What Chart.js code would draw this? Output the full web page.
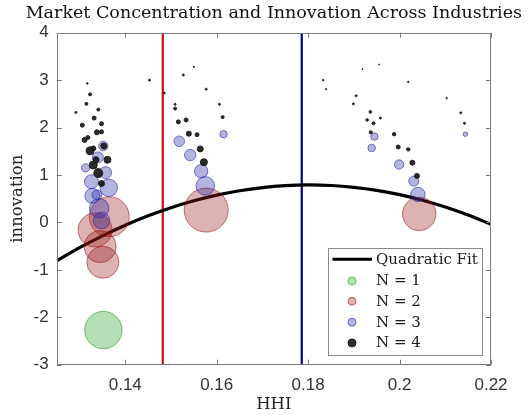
<!DOCTYPE html>
<html><head><meta charset="utf-8">
<script src="https://cdn.jsdelivr.net/npm/chart.js@4/dist/chart.umd.min.js"></script>
<style>html,body{margin:0;padding:0;background:#fff;overflow:hidden}#wrap{width:528px;height:415px;position:relative}</style>
</head><body><div id="wrap"><canvas id="c" width="528" height="415"></canvas></div>
<script>
// ---- data ----
const titleText = 'Market Concentration and Innovation Across Industries';
const xTicks = [0.14, 0.16, 0.18, 0.2, 0.22];
const xTickLabels = ['0.14', '0.16', '0.18', '0.2', '0.22'];
const yTicks = [-3, -2, -1, 0, 1, 2, 3, 4];

const n1X = [0.1352];
const n1Y = [-2.27];
const n1S = [18.7];

const n2X = [0.1365, 0.1334, 0.1345, 0.1351, 0.1577, 0.2043];
const n2Y = [0.12, -0.16, -0.51, -0.84, 0.26, 0.18];
const n2S = [20, 17, 16, 16, 22, 16.7];

const n3X = [0.1352, 0.1340, 0.1313, 0.1357, 0.1326, 0.1364, 0.1328, 0.1338, 0.1343, 0.1348,
             0.1518, 0.1615, 0.1542, 0.1566, 0.1575,
             0.1945, 0.1939, 0.1999, 0.2031, 0.2040, 0.2144];
const n3Y = [1.61, 1.37, 1.15, 1.05, 0.86, 0.73, 0.56, 0.58, 0.30, 0.04,
             1.71, 1.86, 1.42, 1.08, 0.77,
             1.81, 1.57, 1.22, 0.87, 0.59, 1.86];
const n3S = [4.7, 5.5, 4.2, 6, 7, 8.7, 7.5, 5, 9.7, 8.3,
             5.3, 3.7, 5.7, 6.7, 9.3,
             3.7, 3.8, 4.7, 5, 7.2, 2.3];

const n4X = [0.1317, 0.1453, 0.1323, 0.1315, 0.1341, 0.1292, 0.1332, 0.1348, 0.1306, 0.1338, 0.1348,
             0.1311, 0.1318, 0.1330, 0.1323, 0.1353, 0.1361, 0.1336, 0.1330, 0.1341, 0.1348,
             0.1550, 0.1527, 0.1485, 0.1577, 0.1509, 0.1509, 0.1606, 0.1613, 0.1516, 0.1533,
             0.1539, 0.1557, 0.1564, 0.1572,
             0.1833, 0.1839, 0.1919, 0.1955, 0.2019, 0.1905, 0.1899, 0.2103, 0.1936, 0.1929,
             0.1943, 0.1958, 0.1937, 0.1988, 0.1997, 0.2019, 0.2028, 0.2038, 0.2134, 0.2142];
const n4Y = [2.93, 3.00, 2.70, 2.50, 2.38, 2.32, 2.20, 2.08, 2.05, 1.90, 1.91,
             1.74, 1.79, 1.56, 1.51, 1.61, 1.32, 1.32, 1.21, 1.04, 0.82,
             3.28, 3.11, 2.73, 2.81, 2.49, 2.40, 2.49, 2.22, 2.12, 2.16,
             1.87, 1.85, 1.55, 1.27,
             3.00, 2.81, 3.23, 3.33, 2.96, 2.67, 2.50, 2.62, 2.33, 2.16,
             2.09, 2.20, 1.90, 1.86, 1.59, 1.54, 1.26, 0.98, 2.31, 2.09];
const n4S = [0.8, 1, 1.5, 1.5, 1.5, 1, 2, 2, 2, 2.5, 2,
             2.5, 2, 2.5, 4, 3, 3.5, 3, 4, 4.5, 3,
             0.6, 1, 1, 1, 1, 1.5, 1, 1.5, 2, 2,
             2.5, 2, 3, 3.5,
             0.8, 0.6, 0.5, 0.5, 0.7, 1, 1, 0.7, 1.3, 1.3,
             1.5, 1, 1.5, 1.7, 2, 1.7, 2.5, 2.5, 1, 1];

const fitX = [0.125, 0.130, 0.135, 0.140, 0.145, 0.150, 0.155, 0.160, 0.165, 0.170,
              0.175, 0.180, 0.185, 0.190, 0.195, 0.200, 0.205, 0.210, 0.215, 0.220];
const fitY = [-0.81, -0.533, -0.283, -0.059, 0.139, 0.311, 0.456, 0.575, 0.668, 0.735,
              0.776, 0.79, 0.778, 0.740, 0.676, 0.585, 0.468, 0.325, 0.156, -0.04];

const hhiRed = 0.1482;
const hhiBlue = 0.1786;
const yRange = [-3, 4];

// ---- build ----
const toBubbles = (xs, ys, ss) => xs.map((x, i) => ({x: x, y: ys[i], r: ss[i]}));
const toPts = (xs, ys) => xs.map((x, i) => ({x: x, y: ys[i]}));

const serif = '"DejaVu Serif", "Liberation Serif", serif';
const sans = '"Liberation Sans", Arial, sans-serif';

const frameAndLegend = {
  id: 'frameAndLegend',
  afterDatasetsDraw(chart) {
    const {ctx, chartArea: a, scales} = chart;
    ctx.save();
    // title centred over the plot area
    ctx.font = '17.5px ' + serif;
    ctx.fillStyle = '#111';
    ctx.textAlign = 'center';
    ctx.textBaseline = 'middle';
    ctx.fillText(titleText, (a.left + a.right) / 2, a.top - 19);

    // axes box
    ctx.strokeStyle = '#7a7a7a';
    ctx.lineWidth = 1;
    ctx.strokeRect(Math.round(a.left) + 0.5, Math.round(a.top) + 0.5,
                   Math.round(a.right - a.left) - 1, Math.round(a.bottom - a.top) - 1);
    // inward ticks on all four sides
    const tl = 5;
    ctx.beginPath();
    xTicks.forEach(v => {
      const px = Math.round(scales.x.getPixelForValue(v)) + 0.5;
      ctx.moveTo(px, a.bottom); ctx.lineTo(px, a.bottom - tl);
      ctx.moveTo(px, a.top); ctx.lineTo(px, a.top + tl);
    });
    yTicks.forEach(v => {
      const py = Math.round(scales.y.getPixelForValue(v)) + 0.5;
      ctx.moveTo(a.left, py); ctx.lineTo(a.left + tl, py);
      ctx.moveTo(a.right, py); ctx.lineTo(a.right - tl, py);
    });
    ctx.stroke();

    // legend box
    const bx = Math.round(a.right - 163) + 0.5, by = Math.round(a.bottom - 116.5) + 0.5;
    const bw = 154, bh = 107;
    ctx.fillStyle = '#ffffff';
    ctx.fillRect(bx, by, bw, bh);
    ctx.strokeStyle = '#8a8a8a';
    ctx.strokeRect(bx, by, bw, bh);
    const rows = [10.7, 32.4, 52.7, 73.7, 94.4];
    const items = ['fit', 'n1', 'n2', 'n3', 'n4'];
    ctx.font = '15px ' + serif;
    ctx.textBaseline = 'middle';
    ctx.textAlign = 'left';
    items.forEach((id, i) => {
      const ds = chart.data.datasets.find(d => d.id === id);
      const y = by + rows[i];
      if (id === 'fit') {
        ctx.strokeStyle = ds.borderColor;
        ctx.lineWidth = 3;
        ctx.beginPath(); ctx.moveTo(bx + 4, y); ctx.lineTo(bx + 43.5, y); ctx.stroke();
      } else {
        ctx.beginPath(); ctx.arc(bx + 23.5, y, 4, 0, Math.PI * 2);
        ctx.fillStyle = ds.backgroundColor; ctx.fill();
        ctx.lineWidth = 1; ctx.strokeStyle = ds.borderColor; ctx.stroke();
      }
      ctx.fillStyle = '#1a1a1a';
      ctx.fillText(ds.label, bx + 47.5, y + 0.5);
    });
    ctx.restore();
  }
};

const datasets = [
  {id: 'n4', type: 'bubble', label: 'N = 4', data: toBubbles(n4X, n4Y, n4S), order: 0,
   backgroundColor: 'rgba(25,25,25,0.92)', borderColor: 'rgba(25,25,25,0.95)', borderWidth: 1},
  {id: 'n3', type: 'bubble', label: 'N = 3', data: toBubbles(n3X, n3Y, n3S), order: 1,
   backgroundColor: 'rgba(40,40,170,0.35)', borderColor: 'rgba(40,40,170,0.6)', borderWidth: 1},
  {id: 'n2', type: 'bubble', label: 'N = 2', data: toBubbles(n2X, n2Y, n2S), order: 2,
   backgroundColor: 'rgba(150,20,20,0.33)', borderColor: 'rgba(150,20,20,0.55)', borderWidth: 1},
  {id: 'n1', type: 'bubble', label: 'N = 1', data: toBubbles(n1X, n1Y, n1S), order: 3,
   backgroundColor: 'rgba(60,170,60,0.38)', borderColor: 'rgba(60,170,60,0.7)', borderWidth: 1},
  {id: 'fit', type: 'line', label: 'Quadratic Fit', data: toPts(fitX, fitY), order: 4,
   borderColor: '#000000', borderWidth: 3.2, pointRadius: 0, tension: 0.3, fill: false},
  {id: 'vred', type: 'line', label: 'red', data: toPts([hhiRed, hhiRed], yRange), order: 5,
   borderColor: '#cc1010', borderWidth: 2.2, pointRadius: 0, fill: false},
  {id: 'vblue', type: 'line', label: 'blue', data: toPts([hhiBlue, hhiBlue], yRange), order: 5,
   borderColor: '#00008f', borderWidth: 2.2, pointRadius: 0, fill: false}
];

new Chart(document.getElementById('c'), {
  type: 'bubble',
  data: {datasets: datasets},
  plugins: [frameAndLegend],
  options: {
    responsive: false, animation: false, devicePixelRatio: 1,
    layout: {padding: {left: 0, right: 37, top: 32.7, bottom: 0}},
    plugins: {
      legend: {display: false}, tooltip: {enabled: false}, title: {display: false}
    },
    scales: {
      x: {type: 'linear', min: 0.125, max: 0.22,
          afterBuildTicks: s => { s.ticks = xTicks.map(v => ({value: v})); },
          afterFit: s => { s.height = 50.3; },
          grid: {display: false, drawTicks: false}, border: {display: false},
          ticks: {color: '#333', font: {family: sans, size: 17}, padding: 10, maxRotation: 0,
                  callback: v => xTickLabels[xTicks.findIndex(t => Math.abs(t - v) < 1e-9)]},
          title: {display: true, text: 'HHI', color: '#222', font: {family: serif, size: 16.5},
                  padding: {top: 0, bottom: 0}}},
      y: {type: 'linear', min: -3, max: 4,
          afterBuildTicks: s => { s.ticks = yTicks.map(v => ({value: v})); },
          afterFit: s => { s.width = 56.7; },
          grid: {display: false, drawTicks: false}, border: {display: false},
          ticks: {color: '#333', font: {family: sans, size: 17}, padding: 8,
                  callback: v => String(v)},
          title: {display: true, text: 'innovation', color: '#222', font: {family: serif, size: 16.5},
                  padding: {top: 8, bottom: 0}}}
    }
  }
});
</script>
</body></html>
